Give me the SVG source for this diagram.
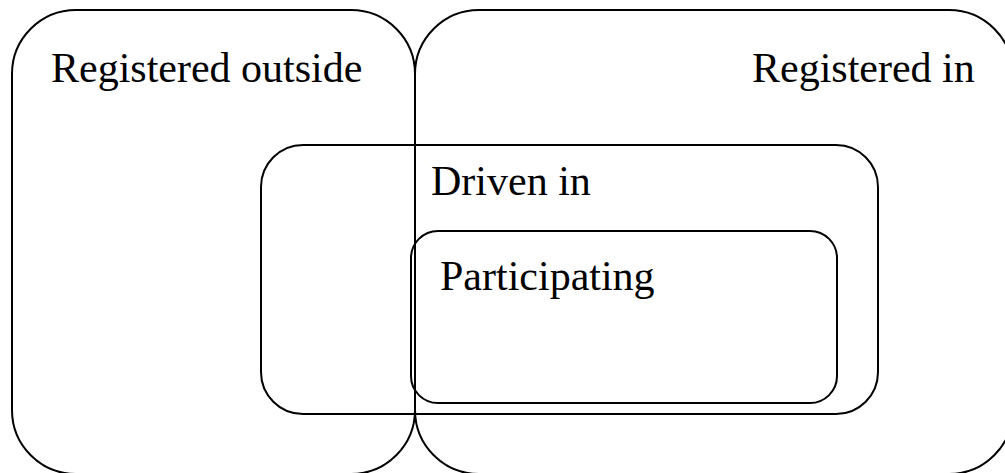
<svg xmlns="http://www.w3.org/2000/svg" width="1005" height="473" viewBox="0 0 1005 473">
<style>
.box{fill:none;stroke:#000;stroke-width:2}
.lbl{font-family:"Liberation Serif","Times New Roman",serif;font-size:42px;fill:#000}
</style>
<rect x="0" y="0" width="1005" height="473" fill="#fff"/>
<g id="registered-outside">
<rect class="box" x="12" y="10" width="403" height="464" rx="64" ry="64"/>
<text class="lbl" x="51" y="82">Registered outside</text>
</g>
<g id="registered-in">
<rect class="box" x="415" y="10" width="598" height="464" rx="64" ry="64"/>
<text class="lbl" x="752" y="82">Registered in</text>
</g>
<g id="driven-in">
<rect class="box" x="261" y="145" width="617" height="269" rx="42" ry="42"/>
<text class="lbl" x="431" y="195">Driven in</text>
</g>
<g id="participating">
<rect class="box" x="411" y="231" width="426" height="172" rx="27" ry="27"/>
<text class="lbl" x="440" y="290">Participating</text>
</g>
<g id="connectors"></g>
</svg>
